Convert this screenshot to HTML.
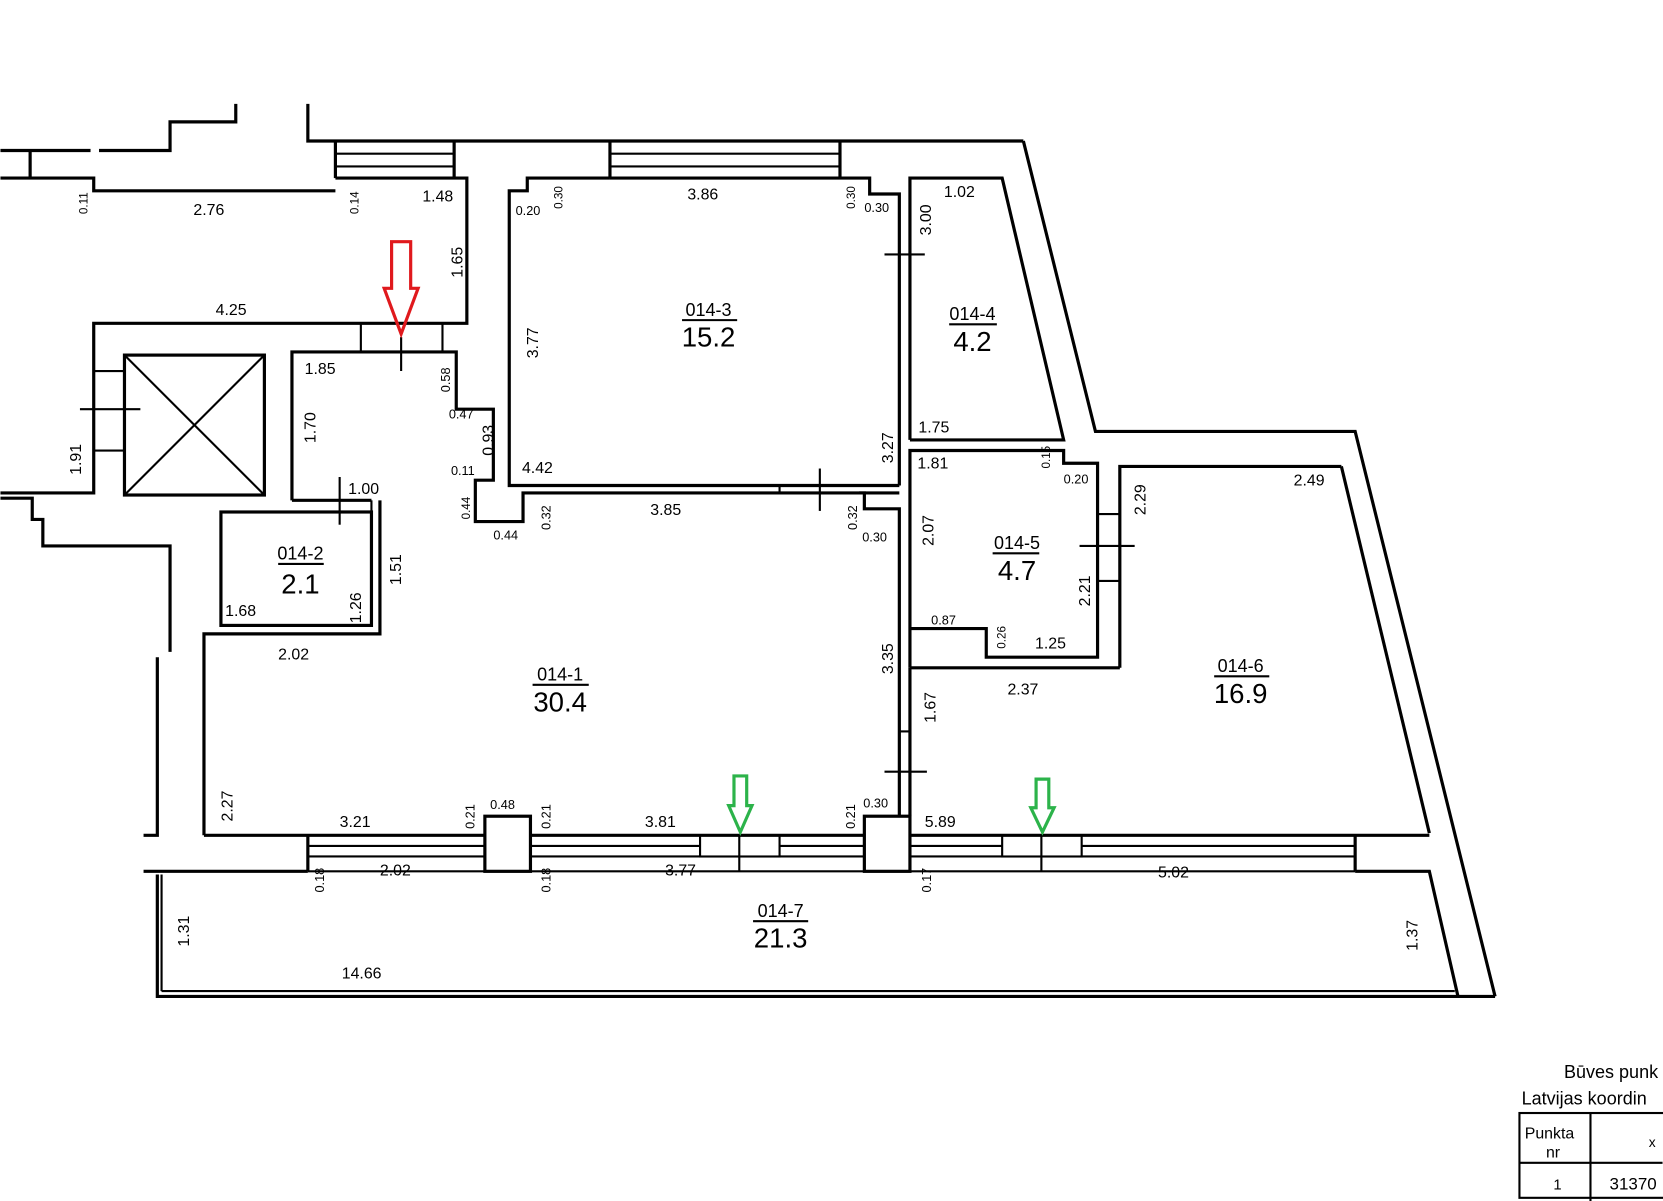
<!DOCTYPE html>
<html><head><meta charset="utf-8"><style>
html,body{margin:0;padding:0;background:#fff;}
svg{display:block}
text{font-family:"Liberation Sans Narrow","Liberation Sans",sans-serif;fill:#000;}
.d{font-size:15px;}
.r{font-size:17px;}
.a{font-size:26px;}
</style></head><body>
<svg width="1663" height="1201" viewBox="0 0 1568 1133" xmlns="http://www.w3.org/2000/svg">
<g fill="none" stroke="#000" stroke-width="3" stroke-linejoin="miter">
<polyline points="0,142 85,142"/>
<polyline points="93,142 160,142 160,115 222,115 222,98"/>
<line x1="28" y1="142" x2="28" y2="168"/>
<polyline points="0,168 88,168 88,180 316,180"/>
<polyline points="290,98 290,133 965,133"/>
<line x1="316" y1="133" x2="316" y2="168"/>
<line x1="428" y1="133" x2="428" y2="168"/>
<line x1="316" y1="145" x2="428" y2="145" stroke-width="2"/>
<line x1="316" y1="157" x2="428" y2="157" stroke-width="2"/>
<polyline points="316,168 440,168 440,305 88,305 88,465 0,465"/>
<polyline points="0,470 30,470 30,490 40,490 40,515 160,515 160,615"/>
<rect x="117" y="335" width="132" height="132"/>
<line x1="117" y1="335" x2="249" y2="467" stroke-width="2"/>
<line x1="249" y1="335" x2="117" y2="467" stroke-width="2"/>
<line x1="88" y1="350" x2="117" y2="350" stroke-width="2"/>
<line x1="88" y1="425" x2="117" y2="425" stroke-width="2"/>
<line x1="75" y1="386" x2="132" y2="386" stroke-width="2"/>
<polyline points="275,472 275,332 430,332 430,386 465,386 465,453 448,453 448,492 493,492 493,465 848,465"/>
<line x1="340" y1="305" x2="340" y2="332" stroke-width="2"/>
<line x1="417" y1="305" x2="417" y2="332" stroke-width="2"/>
<line x1="378" y1="318" x2="378" y2="350" stroke-width="2"/>
<polyline points="275,472 350,472"/>
<rect x="208" y="483" width="142" height="107"/>
<polyline points="358,472 358,598 192,598 192,788"/>
<line x1="320" y1="450" x2="320" y2="495" stroke-width="2"/>
<line x1="350" y1="472" x2="350" y2="483" stroke-width="2"/>
<polyline points="575,168 497,168 497,180 480,180 480,458 848,458"/>
<line x1="575" y1="133" x2="575" y2="168"/>
<line x1="792" y1="133" x2="792" y2="168"/>
<line x1="575" y1="145" x2="792" y2="145" stroke-width="2"/>
<line x1="575" y1="157" x2="792" y2="157" stroke-width="2"/>
<polyline points="575,168 792,168"/>
<polyline points="792,168 820,168 820,183 848,183 848,458"/>
<line x1="735" y1="458" x2="735" y2="465" stroke-width="2"/>
<line x1="773" y1="442" x2="773" y2="482" stroke-width="2"/>
<polyline points="810,465 815,465 815,480 848,480 848,770"/>
<line x1="834" y1="240" x2="872" y2="240" stroke-width="2"/>
<polyline points="858,415 858,168 945,168 1003,415 858,415"/>
<polyline points="965,133 1033,407 1278,407 1410,940"/>
<polyline points="1265,440 1348,786"/>
<polyline points="858,630 858,425 1003,425 1003,437 1035,437 1035,620 930,620 930,593 858,593"/>
<polyline points="1056,630 1056,440 1265,440"/>
<polyline points="858,630 1056,630"/>
<line x1="1035" y1="485" x2="1056" y2="485" stroke-width="2"/>
<line x1="1035" y1="548" x2="1056" y2="548" stroke-width="2"/>
<line x1="1018" y1="515" x2="1070" y2="515" stroke-width="2"/>
<line x1="858" y1="630" x2="858" y2="770"/>
<line x1="848" y1="690" x2="858" y2="690" stroke-width="2"/>
<line x1="834" y1="728" x2="874" y2="728" stroke-width="2"/>
<polyline points="192,788 457,788"/>
<polyline points="500,788 815,788"/>
<polyline points="858,788 1348,788"/>
<rect x="457" y="770" width="43" height="52"/>
<rect x="815" y="770" width="43" height="52"/>
<line x1="290" y1="788" x2="290" y2="822"/>
<line x1="290" y1="798" x2="457" y2="798" stroke-width="2"/>
<line x1="290" y1="808" x2="457" y2="808" stroke-width="2"/>
<line x1="500" y1="798" x2="660" y2="798" stroke-width="2"/>
<line x1="500" y1="808" x2="660" y2="808" stroke-width="2"/>
<rect x="660" y="788" width="75" height="20" stroke-width="2"/>
<line x1="735" y1="798" x2="815" y2="798" stroke-width="2"/>
<line x1="735" y1="808" x2="815" y2="808" stroke-width="2"/>
<line x1="858" y1="798" x2="945" y2="798" stroke-width="2"/>
<line x1="858" y1="808" x2="945" y2="808" stroke-width="2"/>
<rect x="945" y="788" width="75" height="20" stroke-width="2"/>
<line x1="1020" y1="798" x2="1278" y2="798" stroke-width="2"/>
<line x1="1020" y1="808" x2="1278" y2="808" stroke-width="2"/>
<line x1="1278" y1="788" x2="1278" y2="822"/>
<line x1="697" y1="788" x2="697" y2="822" stroke-width="2"/>
<line x1="982" y1="788" x2="982" y2="822" stroke-width="2"/>
<polyline points="135,822 290,822"/>
<polyline points="290,822 815,822" stroke-width="2"/>
<polyline points="858,822 1278,822" stroke-width="2"/>
<polyline points="1278,822 1348,822 1375,940"/>
<polyline points="148,825 148,940 1410,940"/>
<line x1="152" y1="825" x2="152" y2="935" stroke-width="2"/>
<line x1="152" y1="935" x2="1372" y2="935" stroke-width="2"/>
<polyline points="148,620 148,788 135,788"/>
<rect x="1433" y="1050" width="140" height="80" stroke-width="2"/>
<line x1="1433" y1="1097" x2="1568" y2="1097" stroke-width="2"/>
<line x1="1500" y1="1050" x2="1500" y2="1133" stroke-width="2"/>
</g>
<polygon points="369,228 387,228 387,272 394,272 378,315 362,272 369,272" fill="none" stroke="#e0191d" stroke-width="3"/>
<polygon points="692,732 704,732 704,760 709,760 698,785 687,760 692,760" fill="none" stroke="#2cb34a" stroke-width="3"/>
<polygon points="977,735 989,735 989,762 994,762 983,785 972,762 977,762" fill="none" stroke="#2cb34a" stroke-width="3"/>
<g text-anchor="middle">
<text class="r" x="668" y="298">014-3</text><line x1="643" y1="302" x2="695" y2="302" stroke="#000" stroke-width="2"/><text class="a" x="668" y="327">15.2</text>
<text class="r" x="917" y="302">014-4</text><line x1="895" y1="306" x2="940" y2="306" stroke="#000" stroke-width="2"/><text class="a" x="917" y="331">4.2</text>
<text class="r" x="283" y="528">014-2</text><line x1="262" y1="532" x2="305" y2="532" stroke="#000" stroke-width="2"/><text class="a" x="283" y="560">2.1</text>
<text class="r" x="959" y="518">014-5</text><line x1="936" y1="522" x2="980" y2="522" stroke="#000" stroke-width="2"/><text class="a" x="959" y="547">4.7</text>
<text class="r" x="528" y="642">014-1</text><line x1="502" y1="646" x2="555" y2="646" stroke="#000" stroke-width="2"/><text class="a" x="528" y="671">30.4</text>
<text class="r" x="1170" y="634">014-6</text><line x1="1145" y1="638" x2="1197" y2="638" stroke="#000" stroke-width="2"/><text class="a" x="1170" y="663">16.9</text>
<text class="r" x="736" y="865">014-7</text><line x1="710" y1="869" x2="762" y2="869" stroke="#000" stroke-width="2"/><text class="a" x="736" y="894">21.3</text>
</g>
<g class="d">
<text x="182" y="203">2.76</text><text x="398" y="190">1.48</text>
<text x="203" y="297">4.25</text><text x="287" y="353">1.85</text>
<text x="648" y="188">3.86</text><text x="486" y="203" font-size="12">0.20</text>
<text x="815" y="200" font-size="12">0.30</text><text x="890" y="186">1.02</text>
<text x="423" y="395" font-size="12">0.47</text><text x="425" y="448" font-size="12">0.11</text>
<text x="492" y="446">4.42</text><text x="866" y="408">1.75</text>
<text x="865" y="442">1.81</text><text x="1003" y="456" font-size="12">0.20</text>
<text x="1220" y="458">2.49</text>
<text x="328" y="466">1.00</text><text x="465" y="509" font-size="12">0.44</text>
<text x="613" y="486">3.85</text><text x="813" y="511" font-size="12">0.30</text>
<text x="212" y="581">1.68</text><text x="262" y="622">2.02</text>
<text x="878" y="589" font-size="12">0.87</text><text x="976" y="612">1.25</text>
<text x="950" y="655">2.37</text>
<text x="320" y="780">3.21</text><text x="462" y="763" font-size="12">0.48</text>
<text x="608" y="780">3.81</text>
<text x="872" y="780">5.89</text>
<text x="358" y="826">2.02</text><text x="627" y="826">3.77</text>
<text x="1092" y="828">5.02</text><text x="322" y="923">14.66</text>
</g>
<g class="d">
<text transform="translate(82,202) rotate(-90)" font-size="11">0.11</text>
<text transform="translate(338,202) rotate(-90)" font-size="11">0.14</text>
<text transform="translate(436,262) rotate(-90)">1.65</text>
<text transform="translate(530,197) rotate(-90)" font-size="11">0.30</text>
<text transform="translate(806,197) rotate(-90)" font-size="11">0.30</text>
<text transform="translate(878,222) rotate(-90)">3.00</text>
<text transform="translate(507,338) rotate(-90)">3.77</text>
<text transform="translate(76,448) rotate(-90)">1.91</text>
<text transform="translate(297,418) rotate(-90)">1.70</text>
<text transform="translate(424,370) rotate(-90)" font-size="12">0.58</text>
<text transform="translate(465,430) rotate(-90)">0.93</text>
<text transform="translate(842,437) rotate(-90)">3.27</text>
<text transform="translate(990,442) rotate(-90)" font-size="11">0.15</text>
<text transform="translate(1080,486) rotate(-90)">2.29</text>
<text transform="translate(443,490) rotate(-90)" font-size="11">0.44</text>
<text transform="translate(519,500) rotate(-90)" font-size="12">0.32</text>
<text transform="translate(808,500) rotate(-90)" font-size="12">0.32</text>
<text transform="translate(880,515) rotate(-90)">2.07</text>
<text transform="translate(378,552) rotate(-90)">1.51</text>
<text transform="translate(340,588) rotate(-90)">1.26</text>
<text transform="translate(1028,572) rotate(-90)">2.21</text>
<text transform="translate(948,612) rotate(-90)" font-size="11">0.26</text>
<text transform="translate(842,636) rotate(-90)">3.35</text>
<text transform="translate(882,682) rotate(-90)">1.67</text>
<text transform="translate(219,775) rotate(-90)">2.27</text>
<text transform="translate(447,782) rotate(-90)" font-size="12">0.21</text>
<text transform="translate(519,782) rotate(-90)" font-size="12">0.21</text>
<text transform="translate(806,782) rotate(-90)" font-size="12">0.21</text>
<text x="814" y="762" font-size="12">0.30</text>
<text transform="translate(305,842) rotate(-90)" font-size="12">0.18</text>
<text transform="translate(519,842) rotate(-90)" font-size="12">0.18</text>
<text transform="translate(878,842) rotate(-90)" font-size="12">0.17</text>
<text transform="translate(178,893) rotate(-90)">1.31</text>
<text transform="translate(1337,897) rotate(-90)">1.37</text>
</g>
<g font-size="17">
<text x="1475" y="1017">Būves punk</text>
<text x="1435" y="1042">Latvijas koordin</text>
<text x="1438" y="1074" font-size="15">Punkta</text>
<text x="1458" y="1092" font-size="15">nr</text>
<text x="1555" y="1082" font-size="13">x</text>
<text x="1465" y="1122" font-size="14">1</text>
<text x="1518" y="1122" font-size="16">31370</text>
</g>
</svg>
</body></html>
